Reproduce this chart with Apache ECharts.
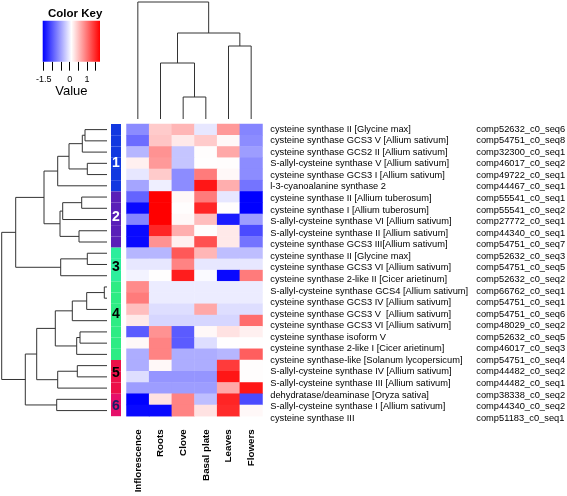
<!DOCTYPE html>
<html><head><meta charset="utf-8">
<script src="https://cdn.jsdelivr.net/npm/echarts@6/dist/echarts.min.js"></script>
<style>html,body{margin:0;padding:0;background:#fff}#c{width:567px;height:496px}</style>
</head><body><div id="c"></div>
<script>
const columns = ['Inflorescence','Roots','Clove','Basal plate','Leaves','Flowers'];
const geneNames = [
 'cysteine synthase II [Glycine max]',
 'cysteine synthase GCS3 V [Allium sativum]',
 'cysteine synthase GCS2 II [Allium sativum]',
 'S-allyl-cysteine synthase V [Allium sativum]',
 'cysteine synthase GCS3 I [Allium sativum]',
 'l-3-cyanoalanine synthase 2',
 'cysteine synthase II [Allium tuberosum]',
 'cysteine synthase I [Allium tuberosum]',
 'S-allyl-cysteine synthase VI [Allium sativum]',
 'S-allyl-cysteine synthase II [Allium sativum]',
 'cysteine synthase GCS3 III[Allium sativum]',
 'cysteine synthase II [Glycine max]',
 'cysteine synthase GCS3 VI [Allium sativum]',
 'cysteine synthase 2-like II [Cicer arietinum]',
 'S-allyl-cysteine synthase GCS4 [Allium sativum]',
 'cysteine synthase GCS3 IV [Allium sativum]',
 'cysteine synthase GCS3 V  [Allium sativum]',
 'cysteine synthase GCS3 VI [Allium sativum]',
 'cysteine synthase isoform V',
 'cysteine synthase 2-like I [Cicer arietinum]',
 'cysteine synthase-like [Solanum lycopersicum]',
 'S-allyl-cysteine synthase IV [Allium sativum]',
 'S-allyl-cysteine synthase III [Allium sativum]',
 'dehydratase/deaminase [Oryza sativa]',
 'S-allyl-cysteine synthase I [Allium sativum]',
 'cysteine synthase III'
];
const geneIds = [
 'comp52632_c0_seq6','comp54751_c0_seq8','comp32300_c0_seq1','comp46017_c0_seq2',
 'comp49722_c0_seq1','comp44467_c0_seq1','comp55541_c0_seq1','comp55541_c0_seq2',
 'comp27772_c0_seq1','comp44340_c0_seq1','comp54751_c0_seq7','comp52632_c0_seq3',
 'comp54751_c0_seq5','comp52632_c0_seq2','comp66762_c0_seq1','comp54751_c0_seq1',
 'comp54751_c0_seq6','comp48029_c0_seq2','comp52632_c0_seq5','comp46017_c0_seq3',
 'comp54751_c0_seq4','comp44482_c0_seq2','comp44482_c0_seq1','comp38338_c0_seq2',
 'comp44340_c0_seq2','comp51183_c0_seq1'
];
// rows x columns (Inflorescence, Roots, Clove, Basal plate, Leaves, Flowers)
const values = [
 [-0.65, 0.43, 0.57, -0.06, 0.76, -0.70],
 [-0.86, 0.47, 0.24, 0.43, 0.14, -0.65],
 [-0.38, 0.80, -0.28, 0.11, 0.66, -0.54],
 [0.19, 0.76, -0.28, 0.10, 0.11, -0.65],
 [-0.06, 0.43, -0.65, 0.95, 0.14, -0.65],
 [-0.49, -0.01, -0.65, 1.61, 0.62, -0.81],
 [-0.91, 1.75, 0.14, 0.95, -0.06, -1.56],
 [-1.50, 1.75, 0.11, 1.51, 0.11, -1.56],
 [-0.70, 1.75, 0.14, 0.52, -1.39, -0.54],
 [-1.50, 1.51, 0.62, 0.11, 0.24, -1.07],
 [-1.50, 0.80, 0.19, 1.23, 0.24, -0.81],
 [-0.38, -0.38, 1.18, 0.57, -0.33, -0.33],
 [-0.06, -0.06, 0.90, -0.06, -0.06, -0.06],
 [0.02, 0.10, 1.56, 0.06, -1.50, 0.95],
 [0.85, -0.03, -0.03, -0.03, -0.03, -0.03],
 [0.95, -0.03, -0.03, -0.03, -0.03, -0.03],
 [0.52, -0.12, -0.12, 0.66, -0.12, -0.12],
 [0.24, -0.17, -0.17, -0.17, -0.17, 1.04],
 [-0.97, 0.80, -0.97, 0.14, 0.28, 0.19],
 [0.14, 0.90, -0.97, -0.12, 0.10, 0.10],
 [-0.44, 0.90, -0.44, -0.44, -0.38, 1.14],
 [-0.44, 0.14, -0.44, -0.44, 1.37, 0.11],
 [-0.12, -0.59, -0.59, -0.59, 1.61, 0.11],
 [-0.54, -0.54, -0.54, -0.54, 0.66, 1.61],
 [-1.56, 0.28, 0.90, -0.33, 1.51, -1.07],
 [-1.50, -1.50, 0.90, 0.28, 1.47, 0.14]
];
const clusterOfRow = [1,1,1,1,1,1,2,2,2,2,2,3,3,3,4,4,4,4,4,4,4,5,5,5,6,6];
const clusterNames = ['1','2','3','4','5','6'];
const clusterLabelRow = [3.0, 7.8, 12.2, 16.4, 21.7, 24.6];
// merges: [a, b, height]; negative = leaf (1-based), positive = earlier merge (1-based)
const rowMerge = [
 [-1,-2,22],[1,-3,24.7],[-4,-5,19.7],[2,3,38],[4,-6,49.3],
 [-7,-8,25.3],[6,-9,44.3],[-10,-11,28],[7,8,47],[5,9,63],
 [-12,-13,19.7],[11,-14,46.3],[10,12,91.3],
 [-15,-16,2.7],[14,-17,20.3],[15,-18,34.7],[-19,-20,27],[17,-21,30.3],[16,18,51.7],
 [-22,-23,29.7],[20,-24,49.3],[19,21,70.3],[-25,-26,50.3],[22,23,81.7],[13,24,105.3]
];
const colMerge = [[-3,-4,22],[-2,1,56],[-5,-6,73],[2,3,86],[-1,4,117]];
const keyRange = [-1.56, 1.75];
const keyTicks = [-1.5,-1,-0.5,0,0.5,1,1.5];
const keyTickLabels = [-1.5, 0, 1];

const FONT = 'Liberation Sans';
const clusterColors = ['#1238e0','#5a1fb8','#2cee9c','#2eec84','#ec1048','#e6106a'];
const clusterLabelColors = ['#ffffff','#ffffff','#000000','#000000','#000000','#1a1a66'];
const heatColors = ['#0000ff','#ffffff','#ff0000'];
const lineColor = '#333333';

function dendroPaths(merge){
  const pos=[], ht=[], paths=[];
  const get = i => i<0 ? [-i-1, 0] : [pos[i-1], ht[i-1]];
  merge.forEach(([a,b,h])=>{
    const [pa,ha]=get(a), [pb,hb]=get(b);
    paths.push([pa,ha,pb,hb,h]);
    pos.push((pa+pb)/2); ht.push(h);
  });
  return paths;
}
const rowPaths = dendroPaths(rowMerge);
const colPaths = dendroPaths(colMerge);

const heatData = [];
values.forEach((row,r)=>row.forEach((v,c)=>heatData.push([c,r,v])));

const nRows = geneNames.length;
const HM = {left:126.5, top:124, width:136, height:292.2};
const LB = {left:262, top:123.3, width:1, height:300.6};

const chart = echarts.init(document.getElementById('c'), null, {renderer:'canvas'});
const hidden = {show:false};
chart.setOption({
  animation:false,
  backgroundColor:'#ffffff',
  title:{text:'Color Key', left:43, top:3, textStyle:{fontFamily:FONT, fontSize:11.5, fontWeight:'bold', color:'#000'}},
  grid:[
    HM,                                                    // 0 heatmap
    {left:0, top:HM.top, width:107, height:HM.height},     // 1 row dendrogram
    {left:HM.left, top:0, width:HM.width, height:119},     // 2 column dendrogram
    {left:111, top:HM.top, width:10, height:HM.height},    // 3 side colour bar
    LB,                                                    // 4 row labels
    {left:42.7, top:20.7, width:57.3, height:41}           // 5 colour key
  ],
  xAxis:[
    {gridIndex:0, type:'category', data:columns, position:'bottom',
     axisLine:hidden, axisTick:hidden, splitLine:hidden,
     axisLabel:{rotate:90, interval:0, margin:13, fontFamily:FONT, fontSize:9.8, fontWeight:'bold', color:'#000'}},
    {gridIndex:1, type:'value', min:0, max:107, inverse:true, show:false},
    {gridIndex:2, type:'value', min:-0.5, max:columns.length-0.5, show:false},
    {gridIndex:3, type:'value', min:0, max:1, show:false},
    {gridIndex:4, type:'value', min:0, max:1, show:false},
    {gridIndex:5, type:'value', min:keyRange[0], max:keyRange[1], position:'bottom',
     axisLine:hidden, splitLine:hidden,
     axisTick:{show:true, length:9, customValues:keyTicks, lineStyle:{color:'#000', width:1}},
     axisLabel:{show:true, customValues:keyTickLabels, margin:13, fontFamily:FONT, fontSize:9, color:'#000'},
     name:'Value', nameLocation:'middle', nameGap:23,
     nameTextStyle:{fontFamily:FONT, fontSize:13, color:'#000'}}
  ],
  yAxis:[
    {gridIndex:0, type:'category', data:geneNames.map((n,i)=>i), inverse:true, show:false},
    {gridIndex:1, type:'value', min:-0.5, max:nRows-0.5, inverse:true, show:false},
    {gridIndex:2, type:'value', min:0, max:119, show:false},
    {gridIndex:3, type:'value', min:-0.5, max:nRows-0.5, inverse:true, show:false},
    {gridIndex:4, type:'category', data:geneNames, inverse:true, position:'right',
     axisLine:hidden, axisTick:hidden, splitLine:hidden,
     axisLabel:{interval:0, align:'left', margin:8, fontFamily:FONT, fontSize:9.3, color:'#000'}},
    {gridIndex:4, type:'category', data:geneIds, inverse:true, position:'right', offset:206,
     axisLine:hidden, axisTick:hidden, splitLine:hidden,
     axisLabel:{interval:0, align:'left', margin:8, fontFamily:FONT, fontSize:9.3, color:'#000'}},
    {gridIndex:5, type:'value', min:0, max:1, show:false}
  ],
  visualMap:{type:'continuous', show:false, min:keyRange[0], max:keyRange[1], seriesIndex:0, dimension:2,
    inRange:{color:heatColors}},
  series:[
    {type:'heatmap', xAxisIndex:0, yAxisIndex:0, data:heatData, itemStyle:{borderWidth:0}, emphasis:{disabled:true}},
    {type:'custom', xAxisIndex:1, yAxisIndex:1, data:rowPaths, encode:{x:[1,3,4], y:[0,2]}, silent:true,
     renderItem:(p,api)=>{
       const pa=api.value(0), ha=api.value(1), pb=api.value(2), hb=api.value(3), h=api.value(4);
       return {type:'polyline', shape:{points:[api.coord([ha,pa]),api.coord([h,pa]),api.coord([h,pb]),api.coord([hb,pb])]},
         style:{stroke:lineColor, lineWidth:1, fill:null}};
     }},
    {type:'custom', xAxisIndex:2, yAxisIndex:2, data:colPaths, encode:{x:[0,2], y:[1,3,4]}, silent:true,
     renderItem:(p,api)=>{
       const pa=api.value(0), ha=api.value(1), pb=api.value(2), hb=api.value(3), h=api.value(4);
       return {type:'polyline', shape:{points:[api.coord([pa,ha]),api.coord([pa,h]),api.coord([pb,h]),api.coord([pb,hb])]},
         style:{stroke:lineColor, lineWidth:1, fill:null}};
     }},
    {type:'custom', xAxisIndex:3, yAxisIndex:3, data:clusterOfRow.map((c,i)=>[i,c]), encode:{y:0}, silent:true,
     renderItem:(p,api)=>{
       const r=api.value(0), c=api.value(1);
       const a=api.coord([0,r-0.5]), b=api.coord([1,r+0.5]);
       return {type:'rect', shape:{x:a[0], y:a[1], width:b[0]-a[0], height:b[1]-a[1]},
         style:{fill:clusterColors[c-1], stroke:null}};
     }},
    {type:'custom', xAxisIndex:3, yAxisIndex:3, data:clusterLabelRow.map((r,i)=>[r,i]), encode:{y:0}, silent:true, z:5,
     renderItem:(p,api)=>{
       const r=api.value(0), i=api.value(1);
       const pt=api.coord([0.5,r]);
       return {type:'text', x:pt[0], y:pt[1],
         style:{text:clusterNames[i], fill:clusterLabelColors[i], font:'bold 14px "'+FONT+'"', align:'center', verticalAlign:'middle'}};
     }},
    {type:'custom', xAxisIndex:5, yAxisIndex:6, data:[[keyRange[0],keyRange[1]]], encode:{x:[0,1]}, silent:true,
     renderItem:(p,api)=>{
       const a=api.coord([api.value(0),1]), b=api.coord([api.value(1),0]);
       return {type:'rect', shape:{x:a[0], y:a[1], width:b[0]-a[0], height:b[1]-a[1]},
         style:{fill:new echarts.graphic.LinearGradient(0,0,1,0,[
           {offset:0,color:heatColors[0]},{offset:0.5,color:heatColors[1]},{offset:1,color:heatColors[2]}]), stroke:null}};
     }}
  ]
});
</script>
</body></html>
